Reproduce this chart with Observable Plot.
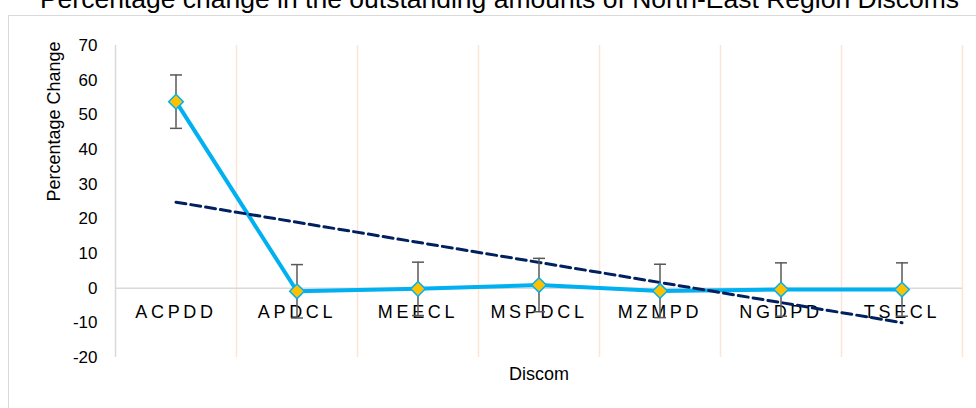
<!DOCTYPE html>
<html>
<head>
<meta charset="utf-8">
<script src="https://cdn.jsdelivr.net/npm/d3@7"></script>
<script src="https://cdn.jsdelivr.net/npm/@observablehq/plot@0.6"></script>
<style>
  html, body { margin: 0; padding: 0; background: #fff; }
  #wrap { position: relative; width: 976px; height: 408px; overflow: hidden; }
  #border { position: absolute; left: 8px; top: 15px; width: 1200px; height: 600px;
            border: 1.5px solid #D9D9D9; box-sizing: border-box; pointer-events: none; }
</style>
</head>
<body>
<div id="wrap"><div id="border"></div></div>
<script>
const titleText = "Percentage change in the outstanding amounts of North-East Region Discoms";
const xTitle = "Discom";
const yTitle = "Percentage Change";
const categories = ["ACPDD", "APDCL", "MEECL", "MSPDCL", "MZMPD", "NGDPD", "TSECL"];
const values = [53.8, -0.9, -0.2, 0.9, -0.8, -0.4, -0.4];
const errorMargins = [7.7, 7.7, 7.7, 7.7, 7.7, 7.7, 7.7];
const yTicks = [-20, -10, 0, 10, 20, 30, 40, 50, 60, 70];

const data = categories.map((c, k) => ({i: k + 1, cat: c, value: values[k], err: errorMargins[k]}));
const bounds = d3.range(0, categories.length + 1).map(k => k + 0.5);

const capSymbol = {
  draw(ctx, size) {
    const w = Math.sqrt(size / Math.PI);
    ctx.moveTo(-w, 0);
    ctx.lineTo(w, 0);
  }
};

const font = "'Liberation Sans', Arial, sans-serif";

const chart = Plot.plot({
  width: 976,
  height: 408,
  marginLeft: 115,
  marginRight: 14,
  marginTop: 45,
  marginBottom: 51,
  style: {fontFamily: font, fontSize: "17px", color: "#000", background: "transparent"},
  x: {domain: [0.5, categories.length + 0.5], axis: null},
  y: {domain: [-20, 70], axis: null},
  marks: [
    Plot.ruleX(bounds.slice(1), {stroke: "#FBE5D6", strokeWidth: 1.5}),
    Plot.ruleX(bounds.slice(0, 1), {stroke: "#D9D9D9", strokeWidth: 1.5}),
    Plot.ruleY([0], {stroke: "#D9D9D9", strokeWidth: 1.5}),
    Plot.axisY({ticks: yTicks, tickSize: 0, tickPadding: 18, label: null, fontSize: 17, tickFormat: d => String(d)}),
    Plot.text(data, {x: "i", y: () => 0, text: "cat", dy: 30, lineAnchor: "bottom", fontSize: 18, fill: "#000"}),
    Plot.text([xTitle], {frameAnchor: "bottom", dy: 22, lineAnchor: "bottom", fontSize: 18, fill: "#000"}),
    Plot.text([yTitle], {frameAnchor: "left", dx: -61, rotate: -90, fontSize: 18, fill: "#000"}),
    Plot.text([titleText], {frameAnchor: "top", dy: -38, dx: -39.5, lineAnchor: "bottom", fontSize: 26.5, fill: "#000"}),
    Plot.line(data, {x: "i", y: "value", stroke: "#00B0F0", strokeWidth: 4}),
    Plot.linearRegressionY(data, {x: "i", y: "value", ci: 0, stroke: "#002060", strokeWidth: 3, strokeDasharray: "10,5"}),
    Plot.ruleX(data, {x: "i", y1: d => d.value - d.err, y2: d => d.value + d.err, stroke: "#595959", strokeWidth: 1.5}),
    Plot.dot(data, {x: "i", y: d => d.value + d.err, symbol: capSymbol, r: 6, fill: "none", stroke: "#595959", strokeWidth: 1.5}),
    Plot.dot(data, {x: "i", y: d => d.value - d.err, symbol: capSymbol, r: 6, fill: "none", stroke: "#595959", strokeWidth: 1.5}),
    Plot.dot(data, {x: "i", y: "value", symbol: "diamond2", r: 6.6, fill: "#FFC000", stroke: "#00B0F0", strokeWidth: 1.5})
  ]
});
chart.style.position = "absolute";
chart.style.left = "0px";
chart.style.top = "0px";
const wrap = document.getElementById("wrap");
wrap.insertBefore(chart, wrap.firstChild);
chart.querySelectorAll("text").forEach(t => {
  if (categories.includes(t.textContent)) t.style.letterSpacing = "3.7px";
});
</script>
</body>
</html>
